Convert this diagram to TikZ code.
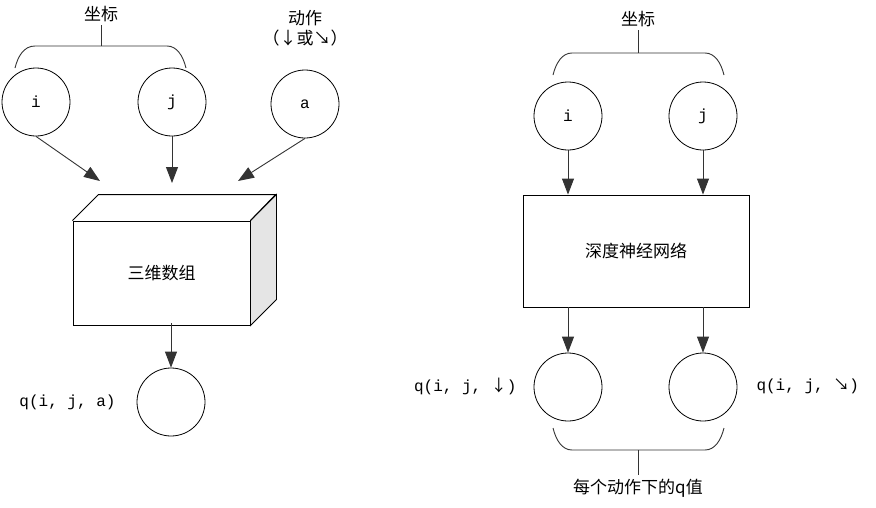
\documentclass[tikz,border=0pt]{standalone}
\usepackage{fontspec}
\newfontfamily\cjk{Noto Sans CJK SC}
\newfontfamily\mono{Liberation Mono}
\usetikzlibrary{arrows.meta}
\begin{document}
\begin{tikzpicture}[x=1pt,y=-1pt,
  circ/.style={circle,draw,line width=0.8pt,minimum size=68pt,inner sep=0pt,font=\mono\fontsize{16}{18}\selectfont},
  conn/.style={line width=0.9pt,draw=black!80,-{Triangle[length=16pt,width=12pt]}},
  brace/.style={line width=0.9pt,draw=black!80},
  zh/.style={font=\cjk\fontsize{17}{20}\selectfont},
  lbl/.style={font=\mono\fontsize{16}{18}\selectfont}]
\useasboundingbox (0,0) rectangle (876,507);
% ---------- left ----------
\node[circ] (i) at (36,102) {i};
\node[circ] (j) at (172,102) {j};
\node[circ] (a) at (305,104) {a};
\node[zh] (zb) at (101,14) {坐标};
\node[zh,align=center] (dz) at (305,28) {动作\\（↓或↘）};
\draw[brace] (15,68) .. controls (18,56) and (24,46) .. (35,46) -- (167,46) .. controls (177,46) and (183,56) .. (186,68);
\draw[brace] (101,46) -- (zb.south);
\node[draw,line width=0.9pt,minimum width=177pt,minimum height=104pt,inner sep=0pt,zh] (arr) at (161.5,273) {三维数组};
\draw[line width=0.9pt,fill=black!10] (arr.north east) -- ++(26,-26) -- ++(0,105) -- (arr.south east) -- cycle;
\draw[line width=0.9pt] (arr.north west) -- ++(26,-26) -- ++(177,0) -- (arr.north east);
\coordinate (ti) at (100,181);
\coordinate (tj) at (172,183);
\coordinate (ta) at (238,181);
\draw[conn] (i.south) -- (ti);
\draw[conn] (j.south) -- (tj);
\draw[conn] (a.south) -- (ta);
\node[circ] (q) at (171,402) {};
\draw[conn] (q |- arr.south) ++(0,-2) -- (q.north);
\node[lbl,anchor=east] (ql) at (119,402) {q(i, j, a)};
% ---------- right ----------
\node[circ] (ri) at (568,116) {i};
\node[circ] (rj) at (703,116) {j};
\node[zh] (rzb) at (638,19) {坐标};
\draw[brace] (553,75) .. controls (556,63) and (562,53) .. (572,53) -- (705,53) .. controls (715,53) and (721,63) .. (724,75);
\draw[brace] (638,53) -- (rzb.south);
\node[draw,line width=0.9pt,minimum width=226pt,minimum height=112pt,inner sep=0pt,zh] (dnn) at (636,251) {深度神经网络};
\draw[conn] (ri.south) -- (ri |- dnn.north);
\draw[conn] (rj.south) -- (rj |- dnn.north);
\node[circ] (q1) at (568,387) {};
\node[circ] (q2) at (703,387) {};
\draw[conn] (q1 |- dnn.south) -- (q1.north);
\draw[conn] (q2 |- dnn.south) -- (q2.north);
\node[lbl,anchor=east] (q1l) at (520,386) {q(i, j, {\cjk ↓})};
\node[lbl,anchor=west] (q2l) at (753,386) {q(i, j, {\cjk ↘})};
\draw[brace] (553,428) .. controls (556,440) and (562,450) .. (572,450) -- (705,450) .. controls (715,450) and (721,440) .. (724,428);
\node[zh] (mq) at (638,488) {每个动作下的q值};
\draw[brace] (638,450) -- (mq.north);
\end{tikzpicture}
\end{document}
